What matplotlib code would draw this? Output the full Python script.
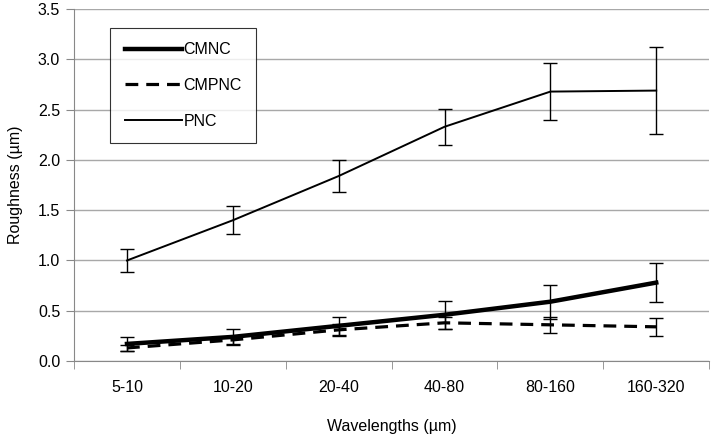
import matplotlib.pyplot as plt
from matplotlib.lines import Line2D
import numpy as np

plt.rcParams['font.family'] = ['Liberation Sans', 'DejaVu Sans']

wavelengths = ['5-10', '10-20', '20-40', '40-80', '80-160', '160-320']

cmnc = [0.17, 0.24, 0.35, 0.46, 0.59, 0.78]
cmnc_err = [0.07, 0.08, 0.09, 0.14, 0.17, 0.19]

cmpnc = [0.13, 0.21, 0.31, 0.38, 0.36, 0.34]
cmpnc_err = [0.03, 0.04, 0.06, 0.06, 0.08, 0.09]

pnc = [1.00, 1.40, 1.84, 2.33, 2.68, 2.69]
pnc_err = [0.11, 0.14, 0.16, 0.18, 0.28, 0.43]

fig = plt.figure(figsize=(7.12, 4.36), dpi=100)
ax = fig.add_axes([0.104, 0.172, 0.892, 0.807])

x = np.arange(len(wavelengths))
dash = (0, (4, 2.5))

ax.errorbar(x, cmnc, yerr=cmnc_err, color='black', lw=3.2, ecolor='black',
            elinewidth=1, capsize=5, capthick=1, zorder=3)
ax.errorbar(x, cmpnc, yerr=cmpnc_err, color='black', lw=2.3, ls=dash,
            ecolor='black', elinewidth=1, capsize=5, capthick=1, zorder=3)
ax.errorbar(x, pnc, yerr=pnc_err, color='black', lw=1.4, ecolor='black',
            elinewidth=1, capsize=5, capthick=1, zorder=3)

ax.set_xlim(-0.5, len(wavelengths) - 0.5)
ax.set_ylim(0, 3.5)
ax.set_yticks(np.arange(0, 3.51, 0.5))
ax.set_yticklabels(['%.1f' % v for v in np.arange(0, 3.51, 0.5)], fontsize=11.5)
ax.set_xticks(x)
ax.set_xticklabels(wavelengths, fontsize=11.5)
ax.set_xticks(np.arange(-0.5, len(wavelengths)), minor=True)
ax.tick_params(axis='x', which='major', length=0, pad=14)
ax.tick_params(axis='x', which='minor', length=6, color='#888888')
ax.tick_params(axis='y', length=6, color='#888888', pad=4)

ax.grid(axis='y', color='#a8a8a8', lw=1)
ax.set_axisbelow(True)
for s in ['top', 'right']:
    ax.spines[s].set_visible(False)
ax.spines['left'].set_color('#888888')
ax.spines['bottom'].set_color('#888888')

ax.set_xlabel('Wavelengths (\u00b5m)', fontsize=11.5, labelpad=17)
ax.set_ylabel('Roughness (\u00b5m)', fontsize=11.5, labelpad=11)

handles = [Line2D([], [], color='black', lw=3.2),
           Line2D([], [], color='black', lw=2.3, ls=dash),
           Line2D([], [], color='black', lw=1.4)]
leg = ax.legend(handles, ['CMNC', 'CMPNC', 'PNC'], loc='upper left',
                bbox_to_anchor=(0.057, 0.947), fontsize=11.5,
                frameon=True, fancybox=False, edgecolor='black', handlelength=3.6,
                handletextpad=0.1, labelspacing=1.3, borderpad=0.9, borderaxespad=0)
leg.get_frame().set_linewidth(0.8)

fig.savefig('out.png', dpi=100)
